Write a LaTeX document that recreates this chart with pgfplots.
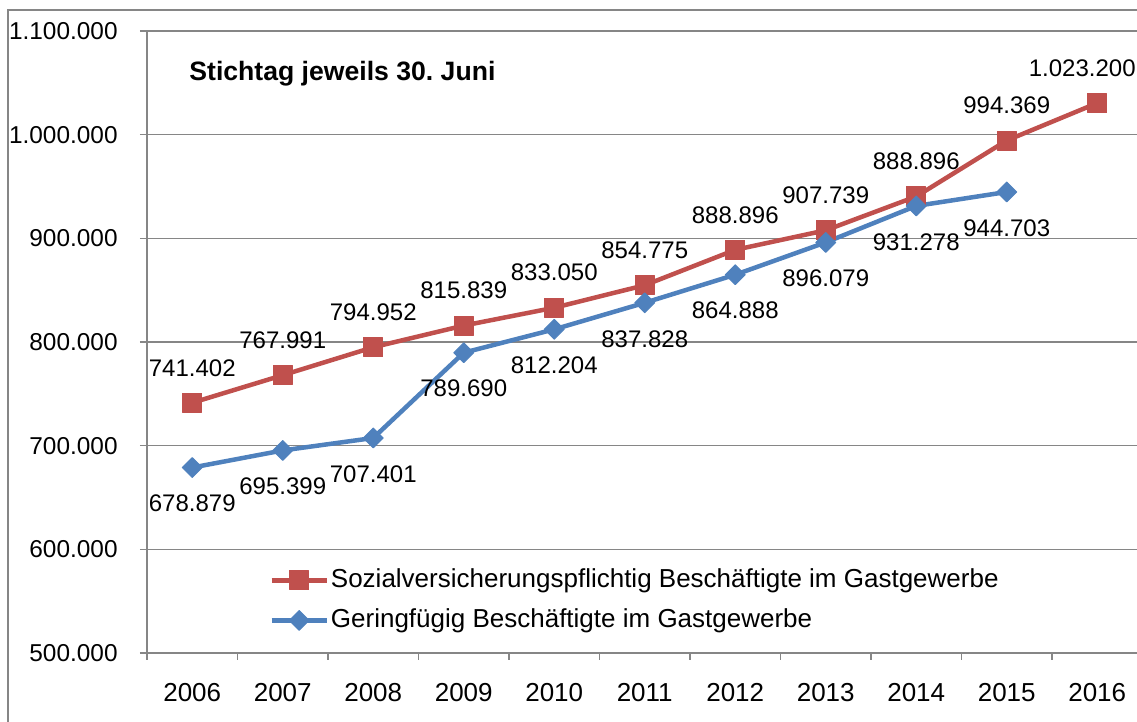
\documentclass[border=0pt]{standalone}
\usepackage{fontspec}
\setmainfont{Liberation Sans}
\usepackage{pgfplots}
\usepackage{pgfplotstable}
\pgfplotsset{compat=1.18}

\definecolor{sozrot}{HTML}{C0504D}
\definecolor{gerblau}{HTML}{4F81BD}
\definecolor{rahmen}{HTML}{868686}

% Jahr (0 = 2006), Wert, Beschriftung, Verschiebung der Beschriftung
\pgfplotstableread{
x y lab dx
0 741402 741.402 0
1 767991 767.991 0
2 794952 794.952 0
3 815839 815.839 0
4 833050 833.050 0
5 854775 854.775 0
6 888896 888.896 0
7 907739 907.739 0
8 940400 888.896 0
9 994369 994.369 0
10 1030500 1.023.200 -7.5
}\sozial

\pgfplotstableread{
x y lab dx
0 678879 678.879 0
1 695399 695.399 0
2 707401 707.401 0
3 789690 789.690 0
4 812204 812.204 0
5 837828 837.828 0
6 864888 864.888 0
7 896079 896.079 0
8 931278 931.278 0
9 944703 944.703 0
}\gering

\begin{document}
\begin{tikzpicture}
\begin{axis}[
    name=ax,
    width=497.75pt, height=311pt, scale only axis,
    xmin=-0.5, xmax=10.5,
    ymin=500000, ymax=1100000,
    xtick={0,...,10},
    xticklabels={2006,2007,2008,2009,2010,2011,2012,2013,2014,2015,2016},
    minor xtick={-0.5,0.5,...,10.5},
    ytick={500000,600000,...,1100000},
    scaled y ticks=false,
    /pgf/number format/.cd, fixed, precision=0, 1000 sep={.}, assume math mode=true,
    /pgfplots/.cd,
    axis x line*=bottom, axis y line*=left,
    axis line style={rahmen, line width=0.75pt, -},
    tick align=outside,
    major tick length=3.5pt, minor tick length=3.5pt,
    major x tick style={draw=none},
    minor x tick style={rahmen, line width=0.75pt},
    ytick style={rahmen, line width=0.75pt},
    ymajorgrids,
    major grid style={rahmen, line width=0.75pt},
    yticklabel style={anchor=east, inner sep=0pt, xshift=-11pt, font=\fontsize{12.2}{14}\selectfont},
    xticklabel style={anchor=center, inner sep=0pt, yshift=-16.5pt, font=\fontsize{13}{15}\selectfont},
    legend style={at={(0.1226,0.1398)}, anchor=north west, draw=none, fill=none,
        inner sep=0pt, row sep=6pt, font=\fontsize{13}{15}\selectfont,
        nodes={inner sep=1pt, text height=9.5pt, text depth=2.5pt}},
    legend cell align=left,
    legend image code/.code={\draw[mark repeat=2, mark phase=2, #1]
        plot coordinates {(0pt,0pt) (13.75pt,0pt) (27.5pt,0pt)};},
    clip=false,
]
\addplot[sozrot, line width=2.25pt, line join=round,
    mark=square*, mark size=4.75pt, mark options={line width=0.5pt},
    nodes near coords={\pgfplotspointmeta}, point meta=explicit symbolic,
    visualization depends on={\thisrow{dx} \as \dx},
    nodes near coords style={font=\fontsize{12}{14}\selectfont, text=black,
        anchor=center, yshift=17.5pt, xshift=\dx pt}]
    table[x=x, y=y, meta=lab] {\sozial};
\addlegendentry{Sozialversicherungspflichtig Beschäftigte im Gastgewerbe}

\addplot[gerblau, line width=2.25pt, line join=round,
    mark=square*, mark size=3.5pt, mark options={line width=0.5pt, rotate=45},
    nodes near coords={\pgfplotspointmeta}, point meta=explicit symbolic,
    nodes near coords style={font=\fontsize{12}{14}\selectfont, text=black,
        anchor=center, yshift=-18pt}]
    table[x=x, y=y, meta=lab] {\gering};
\addlegendentry{Geringfügig Beschäftigte im Gastgewerbe}

\node[anchor=west, inner sep=0pt, font=\fontsize{13.3}{15}\selectfont\bfseries]
    at (rel axis cs:0.0422,0.9309) {Stichtag jeweils 30.~Juni};

\coordinate (BL) at ([xshift=-73.5pt, yshift=-34.5pt]rel axis cs:0,0);
\coordinate (TR) at ([xshift=-2.75pt, yshift=15.5pt]rel axis cs:1,1);
\coordinate (FL) at ([xshift=-69.5pt, yshift=-34.5pt]rel axis cs:0,0);
\coordinate (FT) at ([xshift=-69.5pt, yshift=10.5pt]rel axis cs:0,1);
\coordinate (FR) at ([xshift=-2.75pt, yshift=10.5pt]rel axis cs:1,1);
\end{axis}
\draw[rahmen, line width=0.6pt] (FL) -- (FT) -- (FR);
\pgfresetboundingbox
\useasboundingbox (BL) rectangle (TR);
\end{tikzpicture}
\end{document}
